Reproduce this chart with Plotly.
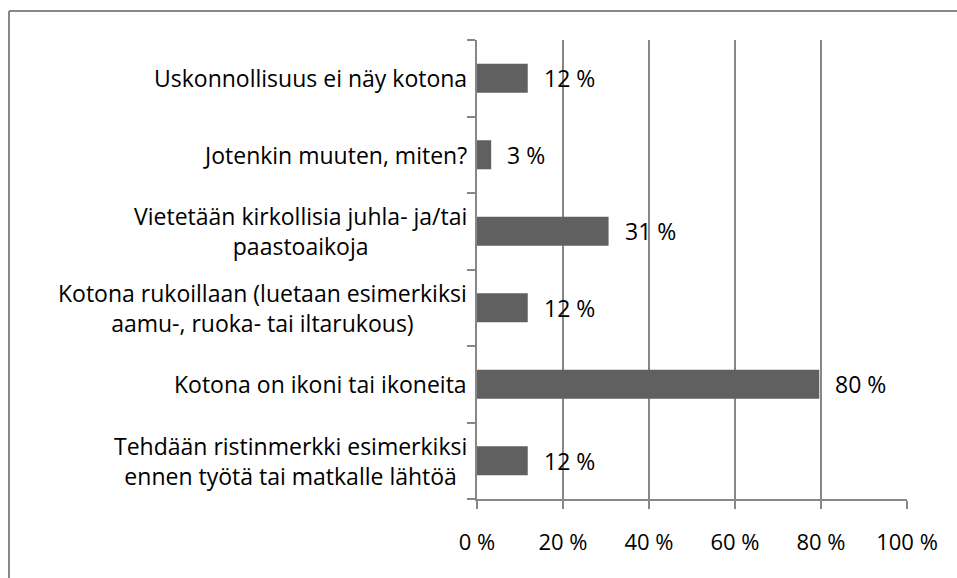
import plotly.graph_objects as go

categories = [
    "Uskonnollisuus ei näy kotona",
    "Jotenkin muuten, miten?",
    "Vietetään kirkollisia juhla- ja/tai<br>paastoaikoja",
    "Kotona rukoillaan (luetaan esimerkiksi<br>aamu-, ruoka- tai iltarukous)",
    "Kotona on ikoni tai ikoneita",
    "Tehdään ristinmerkki esimerkiksi<br>ennen työtä tai matkalle lähtöä",
]
values = [11.8, 3.3, 30.6, 11.8, 79.6, 11.8]
value_labels = ["12 %", "3 %", "31 %", "12 %", "80 %", "12 %"]
x_ticks = [0, 20, 40, 60, 80, 100]
x_tick_labels = ["0 %", "20 %", "40 %", "60 %", "80 %", "100 %"]

FONT = "Open Sans"
FS_CAT = 23
FS_NUM = 23
FS_TICK = 22
GREY = "#878787"

fig = go.Figure()
fig.add_trace(go.Bar(
    y=list(range(len(categories))),
    x=values,
    orientation="h",
    marker=dict(color="#606060", line=dict(width=0)),
    width=0.38,
    hoverinfo="skip",
))

annotations = []
for i, (c, v, lab) in enumerate(zip(categories, values, value_labels)):
    annotations.append(dict(
        x=0, y=i, xref="x", yref="y", text=c, showarrow=False,
        xanchor="right", yanchor="middle", align="center", xshift=-8,
        font=dict(family=FONT, size=FS_CAT, color="#000000"),
    ))
    annotations.append(dict(
        x=v, y=i, xref="x", yref="y", text=lab, showarrow=False,
        xanchor="left", yanchor="middle", xshift=14,
        font=dict(family=FONT, size=FS_NUM, color="#000000"),
    ))

W, H = 957, 578
L, T = 477, 40
R = W - 907
B = H - 499
pw, ph = W - L - R, H - T - B

bx0 = (9 - L) / pw
by1 = 1 + (T - 11) / ph
bx1 = 1 + (R + 20) / pw
by0 = -(B + 20) / ph

fig.update_layout(
    width=W, height=H,
    margin=dict(l=L, r=R, t=T, b=B, pad=0),
    paper_bgcolor="white", plot_bgcolor="white",
    showlegend=False,
    font=dict(family=FONT, size=FS_TICK, color="#000000"),
    annotations=annotations,
    shapes=[
        dict(type="line", xref="paper", yref="paper",
             x0=bx0, x1=bx1, y0=by1, y1=by1,
             line=dict(color=GREY, width=2), layer="above"),
        dict(type="line", xref="paper", yref="paper",
             x0=bx0, x1=bx0, y0=by0, y1=by1,
             line=dict(color=GREY, width=2), layer="above"),
    ],
)
fig.update_xaxes(
    range=[0, 100], tickvals=x_ticks, ticktext=x_tick_labels,
    showgrid=True, gridcolor=GREY, gridwidth=2,
    showline=True, linecolor=GREY, linewidth=2,
    ticks="outside", ticklen=8, tickcolor=GREY, tickwidth=2,
    ticklabelstandoff=15, zeroline=False, fixedrange=True,
    tickfont=dict(family=FONT, size=FS_TICK, color="#000000"),
)
fig.update_yaxes(
    range=[len(categories) - 0.5, -0.5],
    tickvals=[i - 0.5 for i in range(len(categories) + 1)],
    showticklabels=False, showgrid=False, zeroline=False,
    showline=True, linecolor=GREY, linewidth=2,
    ticks="outside", ticklen=8, tickcolor=GREY, tickwidth=2,
    fixedrange=True,
)

fig.write_html(
    "out.html",
    config={"displayModeBar": False},
    post_script="document.body.style.margin='0px';"
                "document.documentElement.style.overflow='hidden';"
                "document.body.style.overflow='hidden';",
)
